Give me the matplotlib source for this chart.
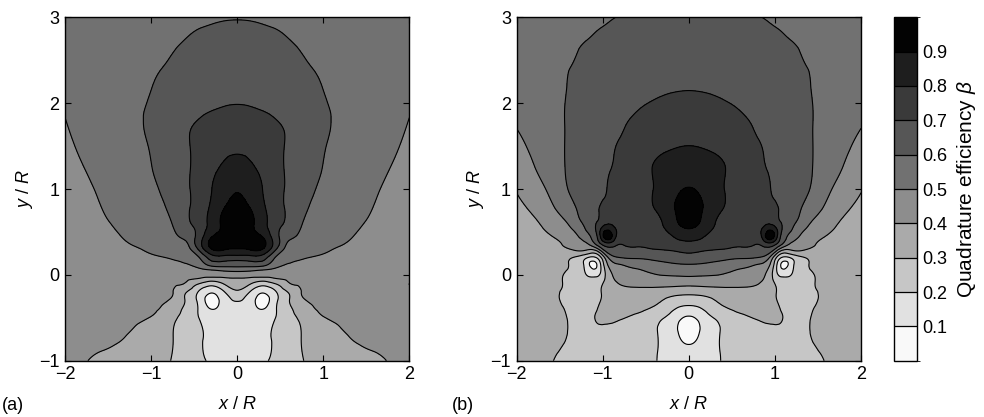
import numpy as np
import matplotlib
matplotlib.use("Agg")
import matplotlib.pyplot as plt
import matplotlib.tri as mtri
from matplotlib.colors import ListedColormap, BoundaryNorm
from matplotlib.cm import ScalarMappable

plt.rcParams['font.family'] = ['Liberation Sans', 'DejaVu Sans']
plt.rcParams['mathtext.fontset'] = 'custom'
plt.rcParams['mathtext.rm'] = 'Liberation Sans'
plt.rcParams['mathtext.it'] = 'Liberation Sans:italic'
plt.rcParams['font.size'] = 13

# ---------------------------------------------------------------------------
# Quadrature efficiency beta sampled on x/R >= 0 (the maps are mirror
# symmetric about x = 0).  Rows run from the bottom (y/R = -1) to the top.
# ---------------------------------------------------------------------------
xa_nodes = [0.0, 0.15, 0.3, 0.45, 0.6, 0.75, 1.0, 1.25, 1.5, 1.75, 2.0]
ya_nodes = [-1.0, -0.75, -0.5, -0.4, -0.3, -0.2, -0.1, -0.05, 0.0, 0.05,
            0.1, 0.2, 0.3, 0.45, 0.6, 0.8, 1.0, 1.25, 1.5, 1.75, 2.0, 2.25,
            2.5, 2.75, 3.0]
beta_a = [
    [0.175, 0.175, 0.19, 0.215, 0.25, 0.295, 0.33, 0.355, 0.38, 0.401, 0.41],
    [0.175, 0.17, 0.18, 0.215, 0.255, 0.302, 0.35, 0.39, 0.41, 0.41, 0.405],
    [0.175, 0.165, 0.16, 0.202, 0.27, 0.32, 0.396, 0.415, 0.415, 0.41, 0.405],
    [0.17, 0.15, 0.10, 0.195, 0.28, 0.35, 0.415, 0.42, 0.415, 0.41, 0.405],
    [0.205, 0.15, 0.06, 0.18, 0.295, 0.385, 0.42, 0.42, 0.415, 0.41, 0.405],
    [0.28, 0.195, 0.11, 0.195, 0.31, 0.402, 0.425, 0.42, 0.415, 0.41, 0.405],
    [0.35, 0.31, 0.25, 0.31, 0.395, 0.412, 0.42, 0.415, 0.41, 0.405, 0.40],
    [0.385, 0.37, 0.35, 0.39, 0.41, 0.42, 0.42, 0.415, 0.41, 0.405, 0.405],
    [0.445, 0.445, 0.445, 0.44, 0.435, 0.435, 0.43, 0.425, 0.42, 0.415, 0.41],
    [0.52, 0.51, 0.49, 0.475, 0.465, 0.457, 0.45, 0.44, 0.435, 0.425, 0.42],
    [0.61, 0.61, 0.595, 0.52, 0.48, 0.47, 0.46, 0.45, 0.44, 0.43, 0.425],
    [0.753, 0.76, 0.745, 0.59, 0.54, 0.51, 0.488, 0.467, 0.452, 0.44, 0.43],
    [0.897, 0.91, 0.898, 0.71, 0.56, 0.535, 0.51, 0.49, 0.47, 0.452, 0.437],
    [0.92, 0.925, 0.89, 0.735, 0.625, 0.58, 0.535, 0.51, 0.485, 0.462, 0.442],
    [0.935, 0.92, 0.835, 0.74, 0.672, 0.603, 0.553, 0.523, 0.497, 0.47, 0.45],
    [0.925, 0.895, 0.815, 0.738, 0.68, 0.625, 0.568, 0.537, 0.51, 0.48, 0.458],
    [0.895, 0.865, 0.797, 0.73, 0.685, 0.64, 0.584, 0.55, 0.52, 0.49, 0.468],
    [0.836, 0.815, 0.775, 0.725, 0.688, 0.655, 0.598, 0.565, 0.533, 0.503, 0.478],
    [0.784, 0.776, 0.758, 0.724, 0.69, 0.665, 0.607, 0.572, 0.545, 0.515, 0.488],
    [0.74, 0.735, 0.726, 0.708, 0.688, 0.665, 0.615, 0.58, 0.553, 0.525, 0.497],
    [0.698, 0.695, 0.687, 0.675, 0.66, 0.643, 0.606, 0.583, 0.56, 0.535, 0.507],
    [0.672, 0.669, 0.662, 0.652, 0.638, 0.623, 0.597, 0.582, 0.563, 0.543, 0.518],
    [0.647, 0.645, 0.639, 0.63, 0.619, 0.605, 0.587, 0.577, 0.563, 0.548, 0.528],
    [0.622, 0.62, 0.615, 0.609, 0.60, 0.591, 0.579, 0.571, 0.561, 0.55, 0.536],
    [0.597, 0.596, 0.593, 0.589, 0.584, 0.578, 0.571, 0.563, 0.556, 0.549, 0.543],
]

xb_nodes = [0.0, 0.15, 0.3, 0.45, 0.6, 0.75, 0.84, 0.93, 1.02, 1.1, 1.2,
            1.32, 1.45, 1.6, 1.8, 2.0]
yb_nodes = [-1.0, -0.8, -0.645, -0.5, -0.36, -0.23, -0.12, 0.0, 0.12, 0.2,
            0.28, 0.36, 0.445, 0.55, 0.65, 0.78, 1.0, 1.25, 1.5, 1.75, 2.0,
            2.25, 2.5, 2.75, 3.0]
beta_b = [
    [0.15, 0.16, 0.185, 0.215, 0.235, 0.25, 0.255, 0.26, 0.265, 0.27, 0.275, 0.282, 0.29, 0.302, 0.31, 0.315],
    [0.095, 0.135, 0.185, 0.22, 0.24, 0.255, 0.26, 0.265, 0.27, 0.275, 0.28, 0.287, 0.30, 0.31, 0.317, 0.32],
    [0.04, 0.115, 0.18, 0.225, 0.25, 0.27, 0.28, 0.285, 0.29, 0.285, 0.275, 0.28, 0.31, 0.32, 0.322, 0.322],
    [0.085, 0.14, 0.205, 0.25, 0.28, 0.302, 0.31, 0.315, 0.31, 0.298, 0.27, 0.27, 0.31, 0.32, 0.325, 0.325],
    [0.198, 0.22, 0.275, 0.31, 0.33, 0.34, 0.34, 0.33, 0.31, 0.28, 0.255, 0.255, 0.295, 0.315, 0.325, 0.325],
    [0.302, 0.31, 0.33, 0.35, 0.36, 0.365, 0.365, 0.335, 0.297, 0.26, 0.245, 0.255, 0.285, 0.32, 0.33, 0.33],
    [0.41, 0.415, 0.42, 0.42, 0.415, 0.405, 0.39, 0.35, 0.29, 0.245, 0.235, 0.25, 0.295, 0.325, 0.335, 0.335],
    [0.512, 0.508, 0.503, 0.49, 0.47, 0.445, 0.42, 0.36, 0.22, 0.175, 0.205, 0.26, 0.298, 0.335, 0.34, 0.335],
    [0.597, 0.59, 0.575, 0.555, 0.535, 0.51, 0.49, 0.42, 0.21, 0.07, 0.17, 0.27, 0.32, 0.345, 0.34, 0.335],
    [0.663, 0.655, 0.635, 0.62, 0.61, 0.605, 0.59, 0.51, 0.29, 0.18, 0.22, 0.29, 0.33, 0.35, 0.345, 0.34],
    [0.72, 0.705, 0.69, 0.68, 0.67, 0.665, 0.66, 0.65, 0.50, 0.37, 0.39, 0.395, 0.38, 0.36, 0.345, 0.34],
    [0.777, 0.77, 0.755, 0.735, 0.72, 0.712, 0.715, 0.77, 0.70, 0.58, 0.48, 0.44, 0.405, 0.375, 0.35, 0.345],
    [0.84, 0.81, 0.77, 0.75, 0.745, 0.755, 0.79, 0.955, 0.82, 0.64, 0.56, 0.47, 0.43, 0.395, 0.365, 0.355],
    [0.905, 0.87, 0.795, 0.765, 0.75, 0.752, 0.785, 0.85, 0.79, 0.68, 0.605, 0.53, 0.465, 0.425, 0.38, 0.365],
    [0.93, 0.895, 0.81, 0.77, 0.755, 0.75, 0.755, 0.775, 0.72, 0.68, 0.635, 0.57, 0.50, 0.445, 0.395, 0.375],
    [0.94, 0.905, 0.845, 0.785, 0.765, 0.75, 0.74, 0.725, 0.705, 0.685, 0.655, 0.595, 0.545, 0.48, 0.415, 0.385],
    [0.905, 0.88, 0.835, 0.79, 0.765, 0.742, 0.725, 0.705, 0.688, 0.675, 0.657, 0.625, 0.585, 0.525, 0.455, 0.405],
    [0.853, 0.846, 0.825, 0.795, 0.768, 0.738, 0.712, 0.695, 0.68, 0.667, 0.65, 0.628, 0.597, 0.56, 0.495, 0.44],
    [0.801, 0.795, 0.782, 0.765, 0.745, 0.715, 0.701, 0.685, 0.672, 0.66, 0.645, 0.625, 0.598, 0.565, 0.52, 0.475],
    [0.76, 0.757, 0.748, 0.733, 0.716, 0.697, 0.686, 0.675, 0.664, 0.654, 0.641, 0.624, 0.598, 0.572, 0.54, 0.505],
    [0.722, 0.72, 0.713, 0.702, 0.69, 0.677, 0.669, 0.66, 0.651, 0.643, 0.632, 0.617, 0.598, 0.578, 0.555, 0.528],
    [0.688, 0.686, 0.681, 0.674, 0.666, 0.657, 0.651, 0.645, 0.638, 0.632, 0.624, 0.612, 0.595, 0.58, 0.563, 0.545],
    [0.668, 0.667, 0.663, 0.658, 0.651, 0.643, 0.638, 0.632, 0.626, 0.621, 0.614, 0.601, 0.592, 0.582, 0.57, 0.56],
    [0.65, 0.649, 0.645, 0.64, 0.633, 0.625, 0.62, 0.614, 0.609, 0.604, 0.598, 0.591, 0.584, 0.576, 0.566, 0.557],
    [0.63, 0.629, 0.625, 0.619, 0.612, 0.605, 0.6005, 0.596, 0.592, 0.588, 0.584, 0.579, 0.574, 0.568, 0.56, 0.553],
]

contour_levels = [0.1, 0.2, 0.3, 0.4, 0.5, 0.6, 0.7, 0.8, 0.9]
bar_bounds = [0.0] + contour_levels + [1.0]
band_colors = ['#f9f9f9', '#e1e1e1', '#c6c6c6', '#aaaaaa', '#8d8d8d',
               '#717171', '#565656', '#3a3a3a', '#1e1e1e', '#030303']
tick_values = [-2, -1, 0, 1, 2]
ytick_values = [-1, 0, 1, 2, 3]


def mirrored_triangulation(x_half, y_nodes, z_half):
    xh = np.asarray(x_half, float)
    zh = np.asarray(z_half, float)
    x = np.concatenate([-xh[:0:-1], xh])
    z = np.concatenate([zh[:, :0:-1], zh], axis=1)
    y = np.asarray(y_nodes, float)
    X, Y = np.meshgrid(x, y)
    nx, ny = len(x), len(y)
    tris = []
    for j in range(ny - 1):
        for i in range(nx - 1):
            p = j * nx + i
            if x[i] < 0:
                tris.append([p, p + 1, p + nx])
                tris.append([p + 1, p + nx + 1, p + nx])
            else:
                tris.append([p, p + 1, p + nx + 1])
                tris.append([p, p + nx + 1, p + nx])
    tri = mtri.Triangulation(X.ravel(), Y.ravel(), np.array(tris))
    interp = mtri.CubicTriInterpolator(tri, z.ravel(), kind='min_E')
    refiner = mtri.UniformTriRefiner(tri)
    return refiner.refine_field(z.ravel(), triinterpolator=interp, subdiv=4)


def draw_map(ax, x_half, y_nodes, z_half):
    tri_f, z_f = mirrored_triangulation(x_half, y_nodes, z_half)
    fill_levels = [-10.0] + contour_levels + [10.0]
    ax.tricontourf(tri_f, z_f, levels=fill_levels, colors=band_colors)
    ax.tricontour(tri_f, z_f, levels=contour_levels, colors='k',
                  linewidths=0.8)
    ax.set_xlim(-2, 2)
    ax.set_ylim(-1, 3)
    ax.set_xticks(tick_values)
    ax.set_yticks(ytick_values)
    ax.tick_params(direction='in', top=True, right=True, length=4,
                   width=0.8, labelsize=13, pad=4)
    for s in ax.spines.values():
        s.set_linewidth(1.0)
    ax.set_xlabel('$x$ / $R$', fontsize=13, labelpad=9)
    ax.set_ylabel('$y$ / $R$', fontsize=13, labelpad=3)


fig = plt.figure(figsize=(9.84, 4.17), dpi=100)
ax_a = fig.add_axes([0.0661, 0.1350, 0.3499, 0.8235])
ax_b = fig.add_axes([0.5249, 0.1350, 0.3502, 0.8235])
cax = fig.add_axes([0.9085, 0.1350, 0.0234, 0.8235])

draw_map(ax_a, xa_nodes, ya_nodes, beta_a)
draw_map(ax_b, xb_nodes, yb_nodes, beta_b)

fig.text(0.002, 0.008, '(a)', fontsize=13, ha='left', va='bottom')
fig.text(0.459, 0.008, '(b)', fontsize=13, ha='left', va='bottom')

sm = ScalarMappable(norm=BoundaryNorm(bar_bounds, len(band_colors)),
                    cmap=ListedColormap(band_colors))
cb = fig.colorbar(sm, cax=cax, ticks=contour_levels, drawedges=True)
cb.set_ticklabels([f'{v:.1f}' for v in contour_levels])
cb.outline.set_linewidth(1.0)
cb.dividers.set_color('k')
cb.dividers.set_linewidth(0.9)
cax.tick_params(length=0, labelsize=13, pad=4)
cb.set_label(r'Quadrature efficiency $\beta$', fontsize=15, labelpad=5)

fig.savefig('out.png', dpi=100)
